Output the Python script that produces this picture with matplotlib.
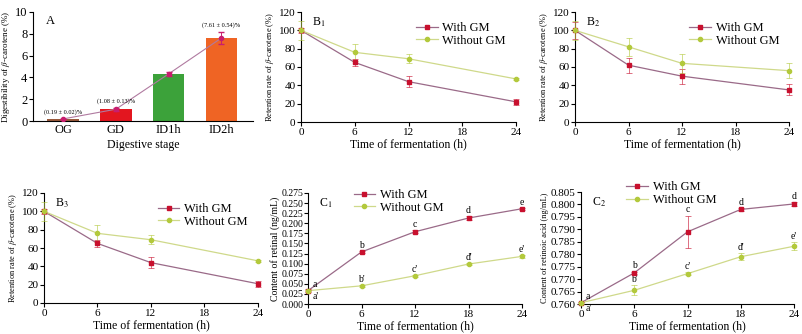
import numpy as np
import matplotlib
matplotlib.use("Agg")
import matplotlib.pyplot as plt

plt.rcParams['font.family'] = ['Liberation Serif', 'DejaVu Serif']
plt.rcParams['mathtext.fontset'] = 'stix'

# panel A
stages = ['OG', 'GD', 'ID1h', 'ID2h']
digest = [0.19, 1.08, 4.32, 7.61]
digest_err = [0.02, 0.13, 0.20, 0.54]
digest_txt = ['(0.19 ± 0.02)%', '(1.08 ± 0.13)%', '', '(7.61 ± 0.54)%']
bar_colors = ['#9a5a3c', '#e3161f', '#3ca23a', '#ef6424']

# panels B
hours_b = [0, 6, 12, 24]
b1_with = [100, 65, 44, 22]
b1_with_err = [3, 4, 6, 3]
b1_without = [100, 76, 69, 47]
b1_without_err = [10, 9, 5, 1]
b2_with = [100, 62, 50, 35]
b2_with_err = [9, 8, 8, 6]
b2_without = [100, 82, 64, 56]
b2_without_err = [10, 10, 10, 8]
b3_with = [100, 65, 44, 21]
b3_with_err = [3, 4, 6, 3]
b3_without = [100, 76, 69, 46]
b3_without_err = [10, 9, 5, 1]

# panels C
hours_c = [0, 6, 12, 18, 24]
c1_with = [0.033, 0.129, 0.179, 0.213, 0.236]
c1_with_err = [0.003, 0.003, 0.004, 0.004, 0.003]
c1_without = [0.033, 0.045, 0.070, 0.099, 0.118]
c1_without_err = [0.002, 0.002, 0.002, 0.002, 0.003]
c1_lab_with = ['a', 'b', 'c', 'd', 'e']
c1_lab_without = ["a'", "b'", "c'", "d'", "e'"]
c2_with = [0.7605, 0.7725, 0.789, 0.798, 0.8002]
c2_with_err = [0.0005, 0.0005, 0.0065, 0.0005, 0.0007]
c2_without = [0.7605, 0.7655, 0.7722, 0.779, 0.7832]
c2_without_err = [0.0005, 0.002, 0.0005, 0.0015, 0.0017]
c2_lab_with = ['a', 'b', 'c', 'd', 'd']
c2_lab_without = ["a'", "b'", "c'", "d'", "e'"]

RED = '#c8102e'
RED_LINE = '#9a6a88'
GRN = '#b3c93c'
GRN_LINE = '#cfd98a'

W, H = 802, 334
fig = plt.figure(figsize=(W / 100, H / 100), dpi=100)


def ax_px(l, t, r, b):
    return fig.add_axes([l / W, (H - b) / H, (r - l) / W, (b - t) / H])


def style(ax):
    for s in ['top', 'right']:
        ax.spines[s].set_visible(False)
    for s in ['left', 'bottom']:
        ax.spines[s].set_linewidth(0.8)
    ax.tick_params(direction='out', length=3, width=0.8, labelsize=8, pad=1)


def series(ax, x, y, e, mk, mc, lc, ms, label):
    ax.plot(x, y, color=lc, lw=0.9, zorder=2, clip_on=False)
    ax.errorbar(x, y, yerr=e, fmt='none', ecolor=mc, elinewidth=0.7,
                capsize=2, capthick=0.7, alpha=0.6, zorder=3, clip_on=False)
    ax.plot(x, y, linestyle='none', marker=mk, color=mc, ms=ms, zorder=4,
            clip_on=False)
    ax.plot([], [], color=lc, lw=0.9, marker=mk, mfc=mc, mec=mc, ms=ms,
            label=label)


# ---- A
ax = ax_px(33, 12, 253, 121)
style(ax)
x = np.arange(len(stages))
ax.bar(x, digest, width=0.6, color=bar_colors, zorder=1)
ax.plot(x, digest, color='#b07aa0', lw=0.8, zorder=2)
ax.errorbar(x, digest, yerr=digest_err, fmt='o', color='#c81e6e', ms=3,
            elinewidth=0.7, capsize=2, zorder=3)
for xi, yi, ei, t in zip(x, digest, digest_err, digest_txt):
    if t:
        ax.text(xi, yi + ei + 0.35, t, ha='center', va='bottom', fontsize=4.5)
ax.set_xlim(-0.57, 3.6)
ax.set_ylim(0, 10)
ax.set_yticks([0, 2, 4, 6, 8, 10])
ax.tick_params(axis='y', labelsize=9)
ax.set_xticks(x)
ax.set_xticklabels(stages, fontsize=9)
ax.tick_params(axis='x', length=0, pad=2)
ax.set_xlabel('Digestive stage', fontsize=8.5, labelpad=2)
ax.set_ylabel(r'Digestibility of $\beta$-carotene (%)', fontsize=6.5, labelpad=2)
ax.text(0.06, 0.97, 'A', transform=ax.transAxes, fontsize=9, va='top')

# ---- B panels
b_panels = [
    ((301, 12, 516, 122), b1_with, b1_with_err, b1_without, b1_without_err, '1'),
    ((575, 12, 789, 122), b2_with, b2_with_err, b2_without, b2_without_err, '2'),
    ((44, 193, 258, 303), b3_with, b3_with_err, b3_without, b3_without_err, '3'),
]
for pos, yw, ew, yo, eo, sub in b_panels:
    ax = ax_px(*pos)
    style(ax)
    series(ax, hours_b, yw, ew, 's', RED, RED_LINE, 3.5, 'With GM')
    series(ax, hours_b, yo, eo, 'o', GRN, GRN_LINE, 3, 'Without GM')
    ax.set_xlim(0, 24)
    ax.set_ylim(0, 120)
    ax.set_xticks([0, 6, 12, 18, 24])
    ax.set_yticks(range(0, 121, 20))
    ax.set_xlabel('Time of fermentation (h)', fontsize=8.5, labelpad=1)
    ax.set_ylabel(r'Retention rate of $\beta$-carotene (%)', fontsize=6,
                  labelpad=2)
    ax.text(0.05, 0.97, 'B$_{%s}$' % sub, transform=ax.transAxes,
            fontsize=8.5, va='top')
    ax.legend(loc='upper right', bbox_to_anchor=(1.0, 1.0), frameon=False,
              fontsize=9, handlelength=1.7, handletextpad=0.4,
              labelspacing=0.05, borderaxespad=0.4)

# ---- C panels
c_panels = [
    ((308, 193, 522, 304), c1_with, c1_with_err, c1_without, c1_without_err,
     c1_lab_with, c1_lab_without, (0, 0.275), 0.025, '%.3f',
     'Content of retinal (ng/mL)', '1', 0.006, 1.08),
    ((581, 192, 794, 304), c2_with, c2_with_err, c2_without, c2_without_err,
     c2_lab_with, c2_lab_without, (0.760, 0.805), 0.005, '%.3f',
     'Content of retinoic acid (ng/mL)', '2', 0.0012, 1.14),
]
for (pos, yw, ew, yo, eo, lw_, lo_, ylim, step, fmt, ylab, sub,
     off, legy) in c_panels:
    ax = ax_px(*pos)
    style(ax)
    series(ax, hours_c, yw, ew, 's', RED, RED_LINE, 3.5, 'With GM')
    series(ax, hours_c, yo, eo, 'o', GRN, GRN_LINE, 3, 'Without GM')
    ax.set_xlim(0, 24)
    ax.set_ylim(*ylim)
    ax.set_xticks([0, 6, 12, 18, 24])
    ax.set_yticks(np.arange(ylim[0], ylim[1] + step / 2, step))
    ax.yaxis.set_major_formatter(plt.FormatStrFormatter(fmt))
    if sub == '1':
        ax.tick_params(axis='y', labelsize=7, pad=0.5)
    ax.set_xlabel('Time of fermentation (h)', fontsize=8.5, labelpad=1)
    ax.set_ylabel(ylab, fontsize=7 if sub == '1' else 6, labelpad=1)
    ax.text(0.05, 0.97, 'C$_{%s}$' % sub, transform=ax.transAxes,
            fontsize=8.5, va='top')
    for i, (xx, y1, e1, y2, e2) in enumerate(zip(hours_c, yw, ew, yo, eo)):
        if i == 0:
            ax.text(xx + 0.5, y1 + off * 0.6, lw_[i], fontsize=7, ha='left',
                    va='bottom')
            ax.text(xx + 0.5, y2 - off * 0.4, lo_[i], fontsize=7, ha='left',
                    va='top')
        else:
            ax.text(xx, y1 + e1 + off * 0.4, lw_[i], fontsize=7, ha='center',
                    va='bottom')
            ax.text(xx, y2 + e2 + off * 0.4, lo_[i], fontsize=7, ha='center',
                    va='bottom')
    ax.legend(loc='upper left', bbox_to_anchor=(0.19, legy), frameon=False,
              fontsize=9, handlelength=1.7, handletextpad=0.4,
              labelspacing=0.05, borderaxespad=0.0)

fig.savefig('out.png', dpi=100)
